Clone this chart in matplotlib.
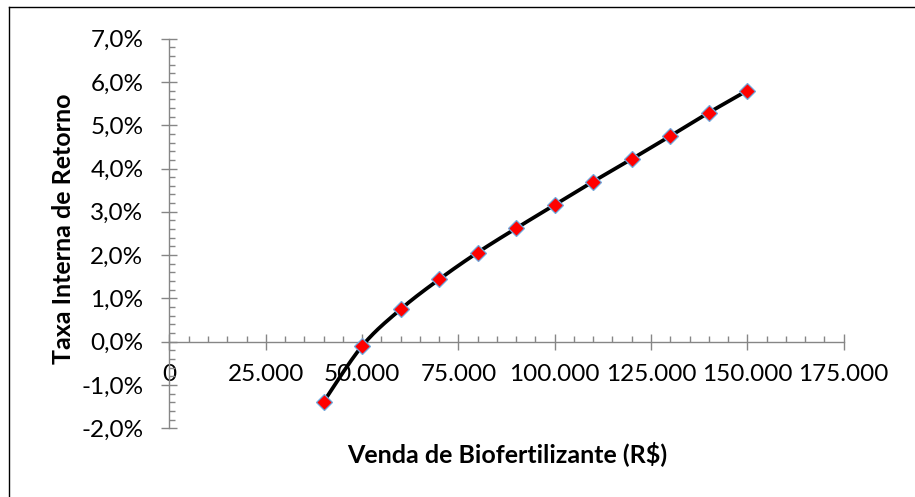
"""TIR vs venda de biofertilizante, Excel-style scatter with smoothed line."""

import matplotlib

matplotlib.use("Agg")
import matplotlib.pyplot as plt
import numpy as np
from matplotlib.lines import Line2D
from matplotlib.ticker import FuncFormatter, MultipleLocator

# Data.
venda = [40000, 50000, 60000, 70000, 80000, 90000, 100000,
         110000, 120000, 130000, 140000, 150000]
tir_pct = [-1.39, -0.10, 0.75, 1.44, 2.06, 2.62, 3.16,
           3.70, 4.22, 4.75, 5.29, 5.80]

x_label = "Venda de Biofertilizante (R$)"
y_label = "Taxa Interna de Retorno"

plt.rcParams["font.family"] = ["Lato", "DejaVu Sans"]

AXIS_GREY = "#868686"


def smooth_curve(ax, xs, ys, n=25):
    # Excel-like smoothing: cubic Bezier with Catmull-Rom control points,
    # computed in display space so the curve looks the same on screen.
    pts = ax.transData.transform(np.column_stack([xs, ys]))
    p = np.vstack([pts[0], pts, pts[-1]])
    t = np.linspace(0, 1, n)[:, None]
    segs = []
    for i in range(1, len(p) - 2):
        p0, p1, p2, p3 = p[i - 1], p[i], p[i + 1], p[i + 2]
        c1 = p1 + (p2 - p0) / 6
        c2 = p2 - (p3 - p1) / 6
        segs.append((1 - t) ** 3 * p1 + 3 * (1 - t) ** 2 * t * c1
                    + 3 * (1 - t) * t ** 2 * c2 + t ** 3 * p2)
    return ax.transData.inverted().transform(np.vstack(segs))


fig = plt.figure(figsize=(9.15, 4.97), dpi=100)
ax = fig.add_axes([0.1852, 0.1382, 0.7368, 0.7841])

ax.set_xlim(0, 175000)
ax.set_ylim(-2, 7)

for side in ("top", "right"):
    ax.spines[side].set_visible(False)
ax.spines["left"].set_position(("data", 0))
ax.spines["bottom"].set_position(("data", 0))
for side in ("left", "bottom"):
    ax.spines[side].set_color(AXIS_GREY)
    ax.spines[side].set_linewidth(1.0)

ax.xaxis.set_major_locator(MultipleLocator(25000))
ax.xaxis.set_minor_locator(MultipleLocator(5000))
ax.yaxis.set_major_locator(MultipleLocator(1))
ax.yaxis.set_minor_locator(MultipleLocator(0.2))

ax.xaxis.set_major_formatter(FuncFormatter(lambda v, _: f"{int(round(v)):,}".replace(",", ".")))
ax.yaxis.set_major_formatter(FuncFormatter(lambda v, _: f"{v:.1f}%".replace(".", ",")))

ax.tick_params(which="major", direction="inout", length=11.5, width=1.0,
               color=AXIS_GREY, labelsize=17.5, labelcolor="black")
ax.tick_params(which="minor", direction="in", length=4.3, width=1.0, color=AXIS_GREY)
ax.tick_params(axis="y", which="major", pad=13)
ax.tick_params(axis="x", which="major", pad=10.5)

fig.canvas.draw()
curve = smooth_curve(ax, venda, tir_pct)
ax.plot(curve[:, 0], curve[:, 1], color="black", lw=2.7, zorder=3, clip_on=False)
ax.plot(venda, tir_pct, linestyle="none", marker="D", markersize=8.6,
        markerfacecolor="#ff0000", markeredgecolor="#6fa8dc",
        markeredgewidth=0.9, zorder=4, clip_on=False)

fig.text(64 / 915, 1 - 228.5 / 497, y_label, rotation=90, ha="center",
         va="center", fontsize=18, fontweight="bold")
fig.text(507 / 915, 1 - 454 / 497, x_label, ha="center", va="center",
         fontsize=18, fontweight="bold")

# chart-area frame (only top and left edges are visible in the reference)
fig.add_artist(Line2D([9 / 915, 1], [1 - 7 / 497, 1 - 7 / 497],
                      transform=fig.transFigure, color="black", lw=1.0))
fig.add_artist(Line2D([9 / 915, 9 / 915], [0, 1 - 7 / 497],
                      transform=fig.transFigure, color="black", lw=1.0))

fig.savefig("out.png", dpi=100)
